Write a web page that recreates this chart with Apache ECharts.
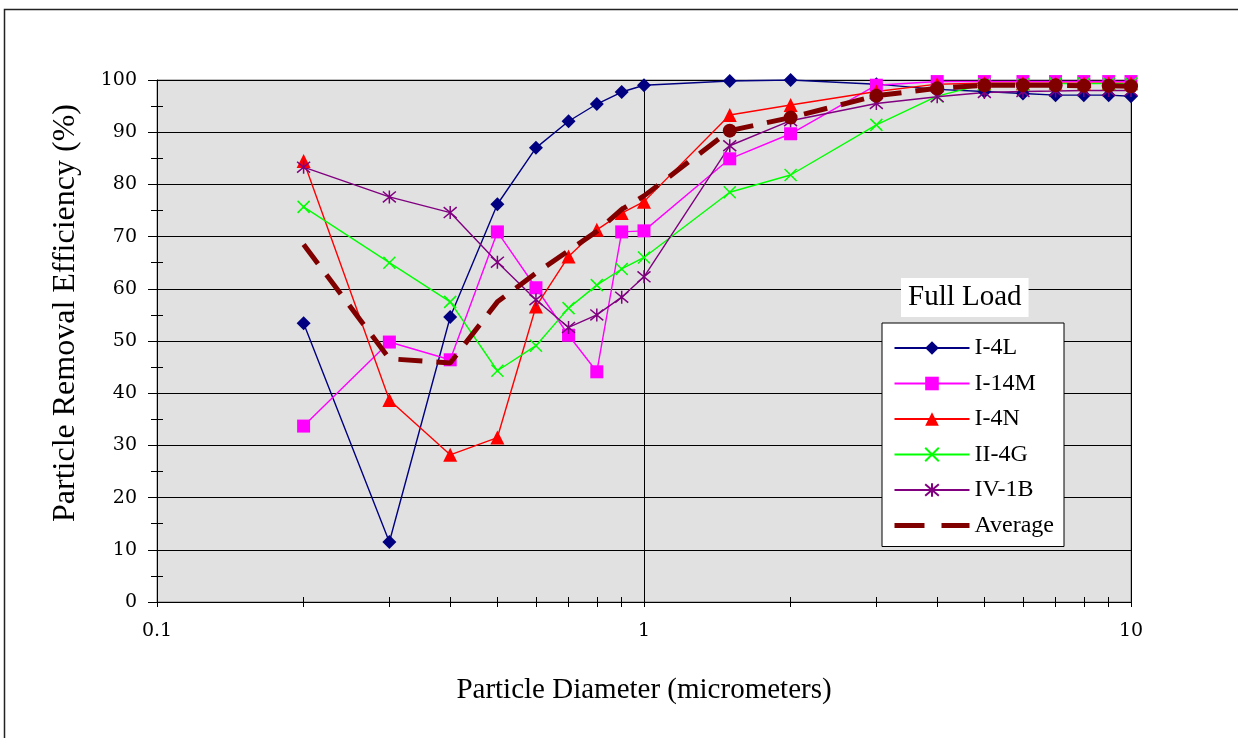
<!DOCTYPE html>
<html>
<head>
<meta charset="utf-8">
<script src="https://cdn.jsdelivr.net/npm/echarts@6/dist/echarts.min.js"></script>
<style>
  html, body { margin: 0; padding: 0; background: #fff; }
  #chart { width: 1238px; height: 738px; }
</style>
</head>
<body>
<div id="chart"></div>
<script>
// Particle diameters (micrometers)
const diameters = [0.2, 0.3, 0.4, 0.5, 0.6, 0.7, 0.8, 0.9, 1, 1.5, 2, 3, 4, 5, 6, 7, 8, 9, 10];

// Removal efficiency (%) per filter
const i4L   = [53.4, 11.5, 54.6, 76.2, 87.0, 92.1, 95.4, 97.7, 99.0, 99.8, 100.0, 99.2, 98.2, 97.8, 97.4, 97.1, 97.1, 97.1, 96.9];
const i14M  = [33.7, 49.8, 46.4, 70.9, 60.2, 51.1, 44.1, 70.9, 71.1, 84.9, 89.7, 99.0, 99.7, 99.7, 99.7, 99.7, 99.7, 99.7, 99.7];
const i4N   = [84.5, 38.7, 28.2, 31.5, 56.6, 66.2, 71.3, 74.5, 76.7, 93.3, 95.2, 97.8, 99.2, 99.4, 99.4, 99.4, 99.4, 99.4, 99.4];
const ii4G  = [75.7, 65.0, 57.5, 44.3, 49.1, 56.3, 60.7, 63.8, 66.0, 78.5, 81.8, 91.4, 96.9, 99.2, 99.2, 99.3, 99.3, 99.3, 99.3];
const iv1B  = [83.3, 77.6, 74.6, 65.1, 57.9, 52.6, 55.0, 58.4, 62.3, 87.4, 92.2, 95.5, 96.8, 97.6, 97.8, 97.9, 98.0, 98.0, 98.0];
const average = [68.5, 46.6, 45.8, 57.5, 63.0, 67.3, 71.0, 75.2, 77.8, 90.3, 92.8, 97.0, 98.4, 99.0, 99.0, 99.0, 98.9, 98.9, 98.8];

const seriesNames = ['I-4L', 'I-14M', 'I-4N', 'II-4G', 'IV-1B', 'Average'];
const xTickValues = [0.1, 0.2, 0.3, 0.4, 0.5, 0.6, 0.7, 0.8, 0.9, 1, 2, 3, 4, 5, 6, 7, 8, 9, 10];

const serif = 'Liberation Serif';
const tickFont = 'DejaVu Serif';

const pairs = ys => diameters.map((x, i) => [x, ys[i]]);

const X_PATH = 'path://M0,0L10,10M10,0L0,10';
const STAR_PATH = 'path://M5,-1L5,11M0,0L10,10M10,0L0,10';

function lineSeries(name, ys, color, symbol, size, strokeOnly) {
  return {
    name: name,
    type: 'line',
    data: pairs(ys),
    symbol: symbol,
    symbolSize: size,
    showSymbol: true,
    lineStyle: { color: color, width: 1.4 },
    itemStyle: strokeOnly
      ? { color: 'rgba(0,0,0,0)', borderColor: color, borderWidth: 1.5 }
      : { color: color, borderColor: color, borderWidth: 0 },
    emphasis: { disabled: true },
    z: 3
  };
}

// extra log axes that only draw the minor ticks across the x axis line
function tickAxis(inside) {
  return {
    type: 'log',
    logBase: 10,
    min: 0.1,
    max: 10,
    position: 'bottom',
    axisLine: { show: false },
    axisTick: { show: true, inside: inside, length: 5, customValues: xTickValues, lineStyle: { color: '#000', width: 1 } },
    axisLabel: { show: false },
    splitLine: { show: false }
  };
}

const chart = echarts.init(document.getElementById('chart'), null, { renderer: 'canvas' });

chart.setOption({
  animation: false,
  backgroundColor: '#ffffff',
  title: {
    text: 'Full Load',
    left: 901,
    top: 278,
    padding: [5, 7, 5, 7],
    backgroundColor: '#ffffff',
    textStyle: { fontFamily: serif, fontSize: 29, fontWeight: 'normal', color: '#000' }
  },
  legend: {
    data: seriesNames.map(n => n === 'Average'
      ? { name: n, itemStyle: { opacity: 0 }, lineStyle: { width: 5, type: [30, 17] } }
      : { name: n }),
    orient: 'vertical',
    left: 882,
    top: 323,
    padding: [13, 10, 9, 10],
    itemWidth: 75,
    itemHeight: 17,
    itemGap: 11.5,
    backgroundColor: '#ffffff',
    borderColor: '#000000',
    borderWidth: 1,
    borderRadius: 0,
    textStyle: { fontFamily: serif, fontSize: 24, color: '#000', lineHeight: 24 }
  },
  graphic: [{
    type: 'rect',
    shape: { x: 4.5, y: 9.5, width: 1240, height: 740 },
    style: { fill: 'none', stroke: '#222', lineWidth: 1.5 },
    silent: true
  }],
  grid: { left: 157, right: 107, top: 80, bottom: 136, show: true, backgroundColor: '#e1e1e1', borderColor: '#808080', borderWidth: 1 },
  xAxis: [{
    type: 'log',
    logBase: 10,
    min: 0.1,
    max: 10,
    name: 'Particle Diameter (micrometers)',
    nameLocation: 'middle',
    nameGap: 74,
    nameTextStyle: { fontFamily: serif, fontSize: 29, color: '#000' },
    axisLine: { show: true, onZero: false, lineStyle: { color: '#000', width: 1 } },
    axisTick: { show: true, length: 5, lineStyle: { color: '#000', width: 1 } },
    axisLabel: {
      margin: 20,
      fontFamily: tickFont, fontSize: 19, color: '#000',
      formatter: v => String(v)
    },
    splitLine: { show: true, lineStyle: { color: '#000', width: 1 } }
  }, tickAxis(true), tickAxis(false)],
  yAxis: [{
    type: 'value',
    min: 0,
    max: 100,
    interval: 10,
    name: 'Particle Removal Efficiency (%)',
    nameLocation: 'middle',
    nameGap: 75,
    nameTextStyle: { fontFamily: serif, fontSize: 32, color: '#000', padding: [0, 0, 0, 56] },
    axisLine: { show: true, lineStyle: { color: '#000', width: 1 } },
    axisTick: { show: true, length: 9, lineStyle: { color: '#000', width: 1 } },
    minorTick: { show: true, splitNumber: 2, length: 6, lineStyle: { color: '#000', width: 1 } },
    axisLabel: { margin: 20, fontFamily: tickFont, fontSize: 19, color: '#000' },
    splitLine: { show: true, lineStyle: { color: '#000', width: 1 } }
  }, {
    type: 'value',
    min: 0,
    max: 100,
    interval: 5,
    position: 'left',
    axisLine: { show: false },
    axisTick: { show: true, inside: true, length: 6, lineStyle: { color: '#000', width: 1 } },
    axisLabel: { show: false },
    splitLine: { show: false }
  }],
  series: [
    lineSeries('I-4L', i4L, '#000080', 'diamond', 14, false),
    lineSeries('I-14M', i14M, '#ff00ff', 'rect', 13, false),
    lineSeries('I-4N', i4N, '#ff0000', 'triangle', 14, false),
    lineSeries('II-4G', ii4G, '#00ff00', X_PATH, 12, true),
    lineSeries('IV-1B', iv1B, '#800080', STAR_PATH, 13, true),
    {
      name: 'Average',
      type: 'line',
      symbol: 'none',
      data: diameters.map((x, i) => x >= 1.5
        ? { value: [x, average[i]], symbol: 'circle', symbolSize: 14 }
        : { value: [x, average[i]] }),
      lineStyle: { color: '#800000', width: 5, type: [24, 14] },
      itemStyle: { color: '#800000' },
      emphasis: { disabled: true },
      z: 4
    }
  ]
});
</script>
</body>
</html>
